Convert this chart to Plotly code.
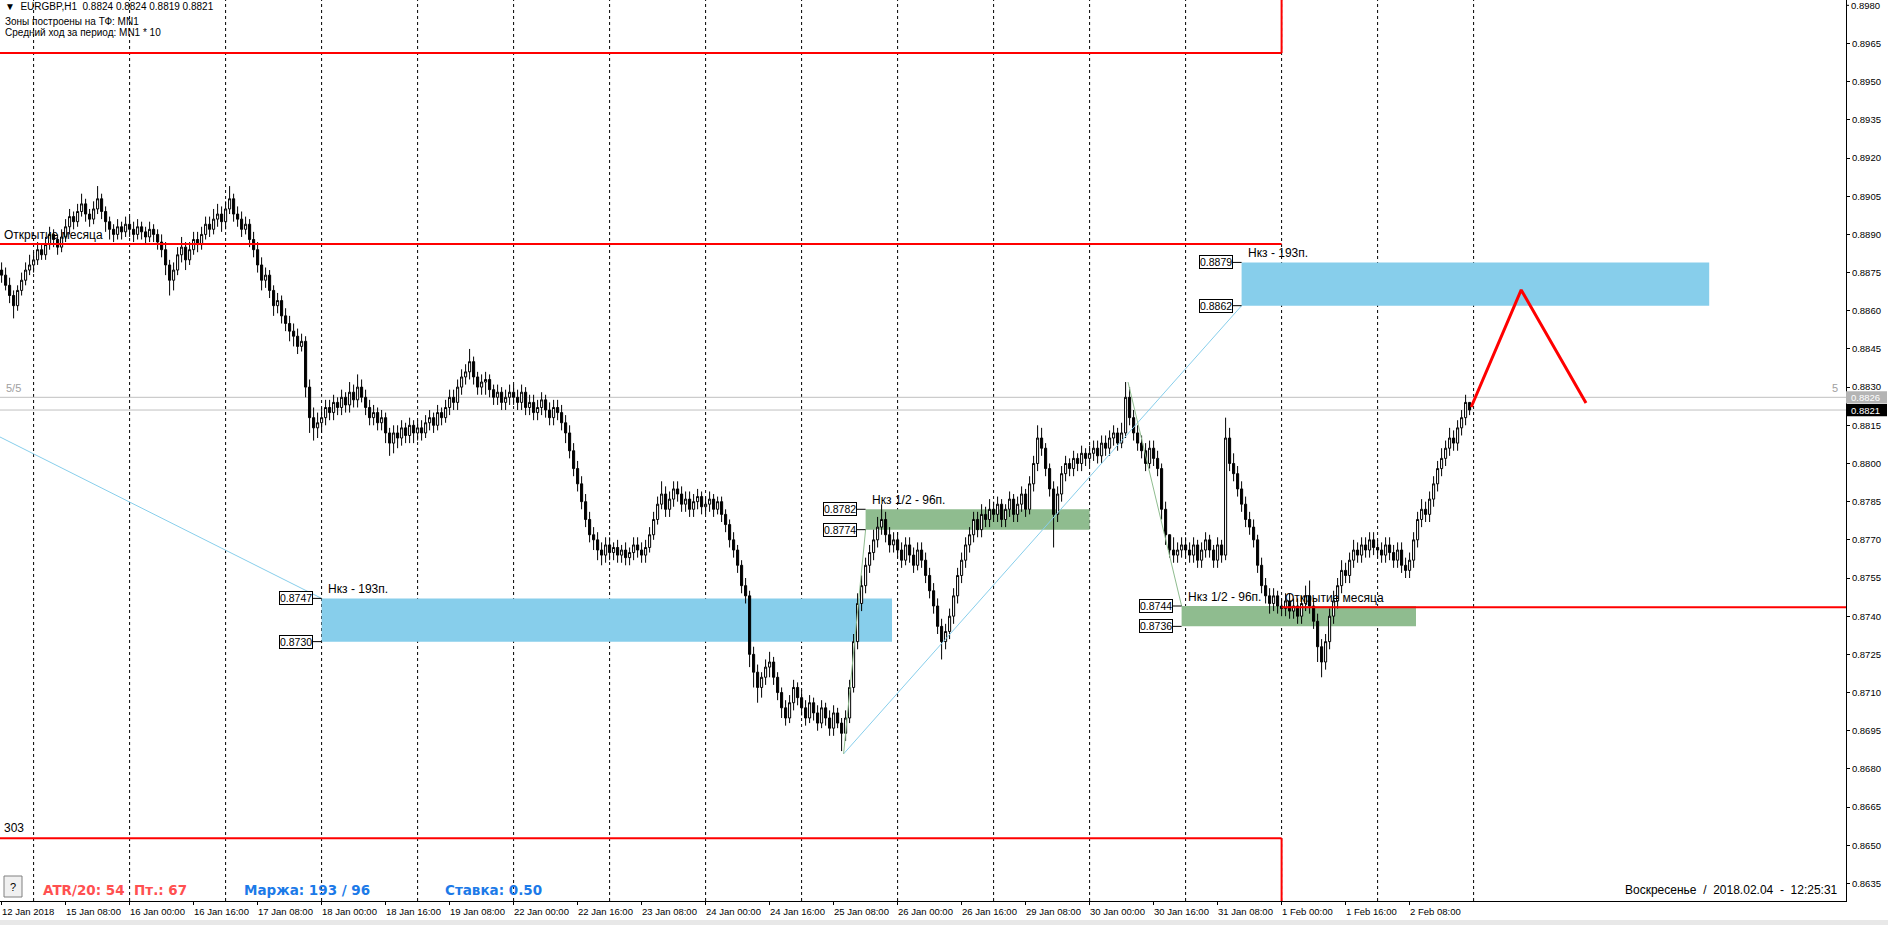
import plotly.graph_objects as go

FONT = "Liberation Sans, Arial, sans-serif"
BOLD_FONT = "DejaVu Sans, Verdana, sans-serif"

# ---------------- data ----------------
header_text = "▼  EURGBP,H1  0.8824 0.8824 0.8819 0.8821"
info_lines = ["Зоны построены на ТФ: MN1", "Средний ход за период: MN1 * 10"]

time_label_bars = [0, 16, 32, 48, 64, 80, 96, 112, 128, 144, 160, 176, 192, 208,
                   224, 240, 256, 272, 288, 304, 320, 336, 352]
time_labels = ["12 Jan 2018", "15 Jan 08:00", "16 Jan 00:00", "16 Jan 16:00", "17 Jan 08:00",
               "18 Jan 00:00", "18 Jan 16:00", "19 Jan 08:00", "22 Jan 00:00", "22 Jan 16:00",
               "23 Jan 08:00", "24 Jan 00:00", "24 Jan 16:00", "25 Jan 08:00", "26 Jan 00:00",
               "26 Jan 16:00", "29 Jan 08:00", "30 Jan 00:00", "30 Jan 16:00", "31 Jan 08:00",
               "1 Feb 00:00", "1 Feb 16:00", "2 Feb 08:00"]
day_separator_bars = [8, 32, 56, 80, 104, 128, 152, 176, 200, 224, 248, 272, 296, 320, 344, 368]

price_ticks = [0.8635, 0.8650, 0.8665, 0.8680, 0.8695, 0.8710, 0.8725, 0.8740, 0.8755, 0.8770,
               0.8785, 0.8800, 0.8815, 0.8830, 0.8845, 0.8860, 0.8875, 0.8890, 0.8905, 0.8920,
               0.8935, 0.8950, 0.8965]
top_price_tick = 0.8980

# hourly bars, prices in 1/10000 (pips)
first_open = 8876
closes = [
    8874, 8870, 8866, 8862, 8868, 8872, 8876, 8878,
    8880, 8884, 8882, 8886, 8890, 8888, 8885, 8889, 8893, 8897, 8895, 8899, 8902, 8898, 8896, 8900, 8904, 8899, 8895, 8892, 8890, 8893, 8891, 8894,
    8892, 8890, 8893, 8891, 8889, 8892, 8890, 8887, 8884, 8878, 8872, 8876, 8882, 8885, 8880, 8884, 8888, 8886, 8890, 8894, 8892, 8896, 8898, 8895,
    8900, 8904, 8898, 8896, 8892, 8894, 8888, 8884, 8878, 8872, 8874, 8868, 8862, 8864, 8858, 8855, 8852, 8850, 8846, 8848, 8830, 8818, 8814, 8816,
    8818, 8822, 8820, 8824, 8822, 8826, 8823, 8828, 8825, 8830, 8826, 8822, 8818, 8820, 8816, 8818, 8812, 8808, 8812, 8810, 8814, 8811, 8815, 8812,
    8814, 8812, 8816, 8818, 8815, 8820, 8818, 8822, 8826, 8824, 8830, 8834, 8836, 8840, 8834, 8830, 8832, 8833, 8829, 8826, 8828, 8824, 8826, 8828,
    8826, 8824, 8828, 8822, 8824, 8820, 8822, 8825, 8821, 8818, 8822, 8820, 8816, 8812, 8805, 8798, 8792, 8785, 8778, 8772, 8770, 8766, 8764, 8768,
    8765, 8767, 8764, 8766, 8763, 8765, 8768, 8766, 8764, 8767, 8772, 8778, 8784, 8788, 8782, 8786, 8790, 8788, 8784, 8786, 8782, 8785, 8787, 8783,
    8784, 8786, 8782, 8785, 8780, 8776, 8770, 8766, 8760, 8752, 8748, 8725, 8718, 8712, 8716, 8720, 8722, 8716, 8710, 8704, 8700, 8706, 8712, 8708,
    8704, 8700, 8706, 8702, 8698, 8704, 8700, 8696, 8702, 8698, 8694, 8700, 8712, 8730, 8745, 8752, 8760, 8765, 8770, 8775, 8778, 8772, 8768, 8770,
    8766, 8762, 8768, 8764, 8760, 8766, 8762, 8756, 8750, 8744, 8736, 8730, 8734, 8740, 8748, 8756, 8762, 8768, 8772, 8778, 8774, 8780, 8778, 8782,
    8780, 8784, 8778, 8782, 8786, 8780, 8784, 8788, 8782, 8792, 8800, 8810, 8806, 8798, 8790, 8780, 8788, 8796, 8800, 8798, 8802, 8800, 8804, 8802,
    8804, 8806, 8803, 8808, 8806, 8810, 8812, 8808, 8812, 8826, 8818, 8812, 8808, 8805, 8800, 8806, 8802, 8798, 8782, 8772, 8766, 8764, 8766, 8768,
    8766, 8764, 8768, 8762, 8766, 8770, 8766, 8762, 8768, 8764, 8810, 8800, 8796, 8790, 8784, 8778, 8775, 8770, 8760, 8752, 8748, 8745, 8748, 8744,
    8743, 8746, 8742, 8744, 8740, 8745, 8748, 8744, 8738, 8728, 8722, 8730, 8740, 8746, 8752, 8758, 8756, 8762, 8766, 8764, 8768, 8766, 8770, 8767,
    8766, 8764, 8768, 8765, 8762, 8766, 8760, 8758, 8762, 8770, 8778, 8782, 8780, 8786, 8792, 8798, 8802, 8806, 8810, 8808, 8814, 8818, 8824, 8821,
]
highs = [
    8879, 8877, 8873, 8868, 8870, 8875, 8879, 8882,
    8883, 8887, 8886, 8889, 8893, 8892, 8890, 8892, 8896, 8900, 8899, 8902, 8906, 8904, 8900, 8903, 8909, 8906, 8901, 8897, 8894, 8896, 8895, 8897,
    8897, 8895, 8896, 8895, 8893, 8895, 8894, 8892, 8890, 8887, 8880, 8879, 8885, 8889, 8887, 8887, 8891, 8891, 8893, 8897, 8897, 8900, 8902, 8901,
    8903, 8909, 8906, 8901, 8899, 8897, 8896, 8891, 8887, 8881, 8877, 8876, 8870, 8867, 8866, 8861, 8858, 8855, 8853, 8851, 8850, 8833, 8822, 8820,
    8822, 8825, 8825, 8827, 8826, 8829, 8828, 8832, 8831, 8835, 8833, 8829, 8825, 8823, 8822, 8821, 8820, 8814, 8815, 8815, 8817, 8816, 8818, 8817,
    8817, 8817, 8819, 8821, 8820, 8823, 8822, 8825, 8829, 8829, 8833, 8837, 8839, 8845, 8842, 8836, 8835, 8836, 8835, 8831, 8831, 8830, 8829, 8831,
    8831, 8829, 8831, 8830, 8827, 8827, 8825, 8828, 8827, 8824, 8825, 8825, 8823, 8819, 8815, 8808, 8801, 8795, 8788, 8781, 8775, 8773, 8769, 8771,
    8771, 8769, 8770, 8768, 8769, 8767, 8771, 8771, 8769, 8770, 8775, 8781, 8787, 8793, 8791, 8789, 8793, 8793, 8791, 8789, 8789, 8788, 8790, 8789,
    8787, 8789, 8788, 8787, 8787, 8782, 8778, 8773, 8768, 8762, 8755, 8750, 8728, 8721, 8718, 8723, 8726, 8724, 8718, 8712, 8707, 8709, 8715, 8714,
    8711, 8707, 8709, 8708, 8705, 8707, 8706, 8703, 8705, 8704, 8700, 8703, 8715, 8733, 8749, 8756, 8763, 8768, 8774, 8779, 8784, 8781, 8775, 8773,
    8773, 8769, 8771, 8771, 8767, 8769, 8769, 8765, 8759, 8753, 8747, 8739, 8737, 8743, 8751, 8759, 8765, 8771, 8775, 8781, 8781, 8784, 8783, 8786,
    8785, 8787, 8786, 8784, 8789, 8788, 8787, 8791, 8790, 8795, 8803, 8815, 8814, 8808, 8800, 8793, 8791, 8799, 8803, 8802, 8805, 8804, 8807, 8806,
    8807, 8809, 8809, 8811, 8811, 8813, 8815, 8814, 8816, 8832, 8830, 8821, 8815, 8811, 8808, 8809, 8809, 8805, 8800, 8785, 8771, 8771, 8769, 8771,
    8771, 8769, 8771, 8770, 8769, 8773, 8772, 8768, 8771, 8770, 8818, 8814, 8804, 8799, 8793, 8787, 8781, 8778, 8772, 8763, 8755, 8751, 8751, 8750,
    8747, 8749, 8749, 8747, 8747, 8748, 8752, 8754, 8747, 8741, 8731, 8733, 8743, 8750, 8755, 8762, 8761, 8765, 8770, 8769, 8771, 8771, 8773, 8773,
    8770, 8769, 8771, 8771, 8768, 8769, 8769, 8763, 8765, 8773, 8781, 8786, 8785, 8789, 8795, 8801, 8806, 8809, 8814, 8813, 8817, 8821, 8827, 8824,
]
lows = [
    8871, 8868, 8863, 8857, 8860, 8866, 8870, 8874,
    8875, 8878, 8880, 8880, 8884, 8885, 8882, 8883, 8887, 8890, 8892, 8893, 8897, 8895, 8893, 8894, 8898, 8896, 8891, 8888, 8887, 8888, 8888, 8889,
    8889, 8887, 8888, 8888, 8886, 8887, 8887, 8884, 8881, 8874, 8866, 8868, 8874, 8879, 8876, 8878, 8882, 8883, 8884, 8888, 8889, 8890, 8893, 8891,
    8892, 8898, 8895, 8893, 8889, 8890, 8885, 8881, 8875, 8868, 8869, 8865, 8858, 8859, 8855, 8852, 8848, 8846, 8843, 8844, 8826, 8812, 8809, 8810,
    8812, 8815, 8817, 8817, 8819, 8819, 8820, 8820, 8822, 8822, 8824, 8819, 8815, 8815, 8813, 8813, 8808, 8803, 8804, 8806, 8807, 8808, 8808, 8808,
    8809, 8809, 8810, 8813, 8812, 8813, 8815, 8816, 8819, 8821, 8821, 8827, 8831, 8833, 8831, 8827, 8827, 8827, 8826, 8823, 8823, 8821, 8821, 8823,
    8823, 8821, 8821, 8819, 8819, 8817, 8817, 8819, 8818, 8815, 8815, 8817, 8813, 8808, 8802, 8795, 8789, 8782, 8775, 8769, 8766, 8762, 8760, 8761,
    8762, 8762, 8761, 8761, 8760, 8760, 8762, 8763, 8761, 8761, 8765, 8770, 8776, 8782, 8779, 8779, 8783, 8785, 8781, 8781, 8779, 8779, 8782, 8780,
    8780, 8781, 8779, 8780, 8777, 8773, 8767, 8763, 8757, 8749, 8745, 8720, 8712, 8706, 8708, 8713, 8716, 8713, 8707, 8700, 8697, 8698, 8703, 8705,
    8701, 8697, 8698, 8699, 8695, 8696, 8697, 8693, 8693, 8696, 8687, 8691, 8698, 8710, 8727, 8742, 8749, 8757, 8762, 8767, 8772, 8769, 8765, 8765,
    8763, 8759, 8760, 8761, 8757, 8758, 8759, 8753, 8747, 8741, 8733, 8723, 8727, 8731, 8737, 8745, 8753, 8759, 8765, 8769, 8771, 8771, 8775, 8775,
    8777, 8777, 8775, 8775, 8779, 8777, 8777, 8781, 8779, 8780, 8789, 8797, 8803, 8795, 8787, 8767, 8777, 8785, 8793, 8795, 8795, 8797, 8797, 8799,
    8799, 8801, 8800, 8800, 8803, 8803, 8807, 8805, 8806, 8810, 8815, 8809, 8805, 8802, 8797, 8798, 8799, 8795, 8778, 8768, 8763, 8761, 8761, 8763,
    8763, 8761, 8761, 8759, 8759, 8763, 8763, 8759, 8759, 8761, 8762, 8797, 8793, 8787, 8781, 8775, 8772, 8767, 8757, 8749, 8745, 8741, 8742, 8741,
    8740, 8740, 8739, 8739, 8737, 8737, 8742, 8741, 8735, 8722, 8716, 8719, 8727, 8737, 8743, 8749, 8753, 8753, 8759, 8761, 8761, 8763, 8763, 8764,
    8763, 8761, 8761, 8762, 8759, 8759, 8757, 8755, 8755, 8759, 8767, 8775, 8777, 8777, 8783, 8789, 8795, 8799, 8803, 8805, 8805, 8811, 8815, 8819,
]

# zones (rectangles)
zone_start = [80, 216, 295, 310]
zone_end = [222.6, 272, 353.6, 426.9]
zone_top = [0.8747, 0.8782, 0.8744, 0.8879]
zone_bottom = [0.8730, 0.8774, 0.8736, 0.8862]
zone_labels = ["Нкз - 193п.", "Нкз 1/2 - 96п.", "Нкз 1/2 - 96п.", "Нкз - 193п."]
zone_colors = ["#87CEEB", "#8FBC8F", "#8FBC8F", "#87CEEB"]

# month open levels
month_open_price = [0.88862, 0.87435]
month_open_from = [-0.4, 320]
month_open_to = [320, 461.1]
month_open_label = "Открытие месяца"
range_top = 0.89613
range_bottom = 0.86528
range_end_bar = 320
range_text = "303"

# thin trend lines
blue_trend_bars = [[-0.4, 80], [210.5, 310]]
blue_trend_prices = [[0.88104, 0.8747], [0.86859, 0.8862]]
green_trend_bars = [[210.5, 216], [281.6, 295]]
green_trend_prices = [[0.86859, 0.8774], [0.8832, 0.8744]]
forecast_bars = [367.4, 379.9, 396.1]
forecast_prices = [0.88222, 0.88682, 0.88238]

level_line_price = 0.8826
bid_price = 0.8821

# ---------------- figure ----------------
W, H = 1888, 925
PL, PR, PT, PB = 0, 42, 0, 24
PW, PH = W - PL - PR, H - PT - PB
X0, X1 = -0.4, 461.1
Y0, Y1 = 0.86281, 0.89821


def px(xp):
    return xp / PW


def py(yp):
    return 1 - yp / PH


opens = [first_open] + closes[:-1]
bars = list(range(len(closes)))

fig = go.Figure()
fig.add_trace(go.Candlestick(
    x=bars,
    open=[v / 10000 for v in opens],
    high=[v / 10000 for v in highs],
    low=[v / 10000 for v in lows],
    close=[v / 10000 for v in closes],
    increasing=dict(line=dict(color="black", width=1), fillcolor="white"),
    decreasing=dict(line=dict(color="black", width=1), fillcolor="black"),
    whiskerwidth=0,
    hoverinfo="skip",
))

shapes = []
# day separators
for b in day_separator_bars:
    shapes.append(dict(type="line", xref="x", yref="paper", x0=b, x1=b, y0=0, y1=1,
                       line=dict(color="black", width=1, dash="3px,3px"), layer="below"))
# zones
for s, e, t, b, c in zip(zone_start, zone_end, zone_top, zone_bottom, zone_colors):
    shapes.append(dict(type="rect", xref="x", yref="y", x0=s, x1=e, y0=b, y1=t,
                       fillcolor=c, line=dict(width=0), layer="below"))
    for p in (t, b):
        shapes.append(dict(type="line", xref="x", yref="y", xsizemode="pixel", xanchor=s,
                           x0=-9, x1=0, y0=p, y1=p, line=dict(color="black", width=1)))
# gray level lines
for p in (level_line_price, bid_price):
    shapes.append(dict(type="line", xref="paper", yref="y", x0=0, x1=1, y0=p, y1=p,
                       line=dict(color="#C0C0C0", width=1), layer="below"))
# month open lines
for p, a, b in zip(month_open_price, month_open_from, month_open_to):
    shapes.append(dict(type="line", xref="x", yref="y", x0=a, x1=b, y0=p, y1=p,
                       line=dict(color="#FF0000", width=2)))
# month range box
shapes.append(dict(type="line", xref="x", yref="y", x0=X0, x1=range_end_bar, y0=range_top, y1=range_top,
                   line=dict(color="#FF0000", width=2)))
shapes.append(dict(type="line", xref="x", yref="y", x0=range_end_bar, x1=range_end_bar, y0=range_top, y1=Y1,
                   line=dict(color="#FF0000", width=2)))
shapes.append(dict(type="line", xref="x", yref="y", x0=X0, x1=range_end_bar, y0=range_bottom, y1=range_bottom,
                   line=dict(color="#FF0000", width=2)))
shapes.append(dict(type="line", xref="x", yref="y", x0=range_end_bar, x1=range_end_bar, y0=Y0, y1=range_bottom,
                   line=dict(color="#FF0000", width=2)))
# "?" button
shapes.append(dict(type="rect", xref="paper", yref="paper", x0=px(4), x1=px(22), y0=py(897), y1=py(876),
                   fillcolor="#F0F0F0", line=dict(color="#808080", width=1)))
# right axis price boxes
shapes.append(dict(type="rect", xref="paper", yref="y", x0=1, x1=1 + 41 / PW, y0=level_line_price - 0.00024,
                   y1=level_line_price + 0.00024, fillcolor="#B4B4B4", line=dict(width=0)))
shapes.append(dict(type="rect", xref="paper", yref="y", x0=1, x1=1 + 41 / PW, y0=bid_price - 0.00024,
                   y1=bid_price + 0.00024, fillcolor="#000000", line=dict(width=0)))
# top price tick mark
shapes.append(dict(type="line", xref="paper", yref="y", x0=1, x1=1 + 3 / PW, y0=top_price_tick, y1=top_price_tick,
                   line=dict(color="black", width=1)))
# bottom strip
shapes.append(dict(type="rect", xref="paper", yref="paper", x0=0, x1=W / PW, y0=py(920), y1=py(925),
                   fillcolor="#E8E8E8", line=dict(width=0)))

# trend lines
for bx, bp in zip(blue_trend_bars, blue_trend_prices):
    fig.add_trace(go.Scatter(x=bx, y=bp, mode="lines", line=dict(color="#87CEEB", width=1), hoverinfo="skip"))
for bx, bp in zip(green_trend_bars, green_trend_prices):
    fig.add_trace(go.Scatter(x=bx, y=bp, mode="lines", line=dict(color="#8FBC8F", width=1), hoverinfo="skip"))
fig.add_trace(go.Scatter(x=forecast_bars, y=forecast_prices, mode="lines",
                         line=dict(color="#FF0000", width=3), hoverinfo="skip"))

ann = []


def text(x, y, s, size=10, color="black", xanchor="left", yanchor="middle", xref="paper", yref="paper",
         family=FONT, **kw):
    ann.append(dict(x=x, y=y, xref=xref, yref=yref, text=s, showarrow=False, xanchor=xanchor,
                    yanchor=yanchor, font=dict(family=family, size=size, color=color), **kw))


# header
text(px(3), py(7), header_text, size=10)
text(px(3), py(21), info_lines[0], size=10)
text(px(3), py(33), info_lines[1], size=10)

# time labels
for b, s in zip(time_label_bars, time_labels):
    text(b, 0, s, size=9.5, xref="x", yanchor="top", yshift=-3, xshift=-2)

# top price label (partly cut by the window edge)
text(1 + 3 / PW, top_price_tick, f"{top_price_tick:.4f}", size=9.5, yref="y")

# zone labels and price boxes
for s, t, b, lab in zip(zone_start, zone_top, zone_bottom, zone_labels):
    text(s, t, lab, size=12, xref="x", yref="y", yanchor="bottom", xshift=4, yshift=0)
    for p in (t, b):
        ann.append(dict(x=s, y=p, xref="x", yref="y", text=f"{p:.4f}", showarrow=False,
                        xanchor="right", yanchor="middle", xshift=-9,
                        bgcolor="white", bordercolor="black", borderwidth=1, borderpad=0,
                        font=dict(family=FONT, size=10.5, color="black")))

# month open labels
text(px(2), month_open_price[0], month_open_label, size=12, yref="y", yanchor="bottom", yshift=0)
text(month_open_from[1], month_open_price[1], month_open_label, size=12, xref="x", yref="y",
     yanchor="bottom", xshift=1, yshift=0)
text(px(2), range_bottom, range_text, size=12, yref="y", yanchor="bottom", yshift=1)

# level labels
text(px(4), level_line_price, "5/5", size=11, color="#A0A0A0", yref="y", yanchor="bottom", yshift=1)
text(px(1840), level_line_price, "5", size=11, color="#A0A0A0", yref="y", yanchor="bottom",
     xanchor="right", yshift=1)

# right axis boxes text
text(1 + 3 / PW, level_line_price, f"{level_line_price:.4f}", size=9.5, color="white", yref="y")
text(1 + 3 / PW, bid_price, f"{bid_price:.4f}", size=9.5, color="white", yref="y")

# bottom info
text(px(13), py(886.5), "?", size=11, xanchor="center")
text(px(41), py(890), "<b>ATR/20: 54  Пт.: 67</b>", size=13.5, color="#FF5050", family=BOLD_FONT)
text(px(242), py(890), "<b>Маржа: 193 / 96</b>", size=13.5, color="#1C7AE8", family=BOLD_FONT)
text(px(443), py(890), "<b>Ставка: 0.50</b>", size=13.5, color="#1C7AE8", family=BOLD_FONT)
text(px(1840), py(890), "Воскресенье  /  2018.02.04  -  12:25:31", size=12, xanchor="right")

fig.update_layout(
    width=W, height=H,
    margin=dict(l=PL, r=PR, t=PT, b=PB, pad=0),
    paper_bgcolor="white", plot_bgcolor="white",
    showlegend=False, hovermode=False,
    boxgap=0.25,
    shapes=shapes, annotations=ann,
    xaxis=dict(range=[X0, X1], showgrid=False, zeroline=False, rangeslider=dict(visible=False),
               tickvals=time_label_bars, ticks="outside", ticklen=3, tickcolor="black",
               showticklabels=False, showline=True, linecolor="black", linewidth=1),
    yaxis=dict(range=[Y0, Y1], side="right", showgrid=False, zeroline=False,
               tickvals=price_ticks, ticktext=[f"{v:.4f}" for v in price_ticks],
               ticks="outside", ticklen=3, tickcolor="black",
               tickfont=dict(family=FONT, size=9.5, color="black"),
               showline=True, linecolor="black", linewidth=1, mirror=True),
)

fig.write_html("out.html", config={"displayModeBar": False},
               post_script="document.body.style.margin='0';document.body.style.overflow='hidden';")
